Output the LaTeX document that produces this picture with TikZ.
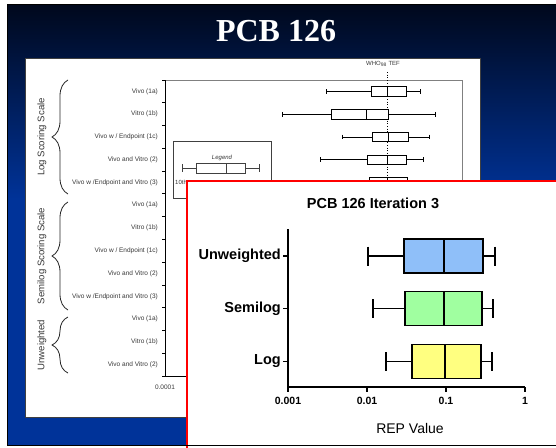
\documentclass[tikz,border=0pt]{standalone}
\usepackage{fontspec}
\setmainfont{Liberation Serif}
\setsansfont{Liberation Sans}
\usetikzlibrary{decorations.pathreplacing}

\definecolor{slidedark}{RGB}{0,8,28}
\definecolor{slideblue}{RGB}{0,51,153}
\definecolor{framegrey}{RGB}{128,128,128}
\definecolor{labelgrey}{RGB}{55,55,55}
\definecolor{boxblue}{RGB}{143,191,249}
\definecolor{boxgreen}{RGB}{160,255,160}
\definecolor{boxyellow}{RGB}{255,255,128}

\tikzset{
  catlabel/.style={font=\sffamily\fontsize{6.5}{7}\selectfont, text=labelgrey, anchor=east, inner sep=0pt},
  grouplabel/.style={font=\sffamily\fontsize{9.6}{11}\selectfont, text=labelgrey, rotate=90, inner sep=0pt},
  groupbrace/.style={decorate, decoration={brace, amplitude=16pt}, line width=0.8pt, draw=black!85},
  smallline/.style={line width=0.8pt, draw=black},
  bigline/.style={line width=1.5pt, draw=black},
  biglabel/.style={font=\sffamily\bfseries\fontsize{14.5}{16}\selectfont, anchor=east, inner sep=0pt},
  ticklabel/.style={font=\sffamily\bfseries\fontsize{10.5}{12}\selectfont, inner sep=0pt},
}

% small box-and-whisker row: y, low, q1, median, q3, high
\newcommand\smallrow[6]{%
  \draw[smallline] (#2,#1) -- (#3,#1) (#5,#1) -- (#6,#1)
    (#2,#1-2.3) -- (#2,#1+2.3) (#6,#1-2.3) -- (#6,#1+2.3);
  \draw[smallline, fill=white] (#3,#1-4.7) rectangle (#5,#1+4.7);
  \draw[smallline] (#4,#1-4.7) -- (#4,#1+4.7);
}
% large box-and-whisker row: y, low, q1, median, q3, high, fill colour
\newcommand\bigrow[7]{%
  \draw[bigline] (#2,#1) -- (#3,#1) (#5,#1) -- (#6,#1)
    (#2,#1-9.5) -- (#2,#1+9.5) (#6,#1-9.5) -- (#6,#1+9.5);
  \draw[bigline, fill=#7] (#3,#1-17) rectangle (#5,#1+17);
  \draw[bigline] (#4,#1-17) -- (#4,#1+17);
}

\begin{document}
\begin{tikzpicture}[x=1pt, y=-1pt]
\useasboundingbox (0,0) rectangle (556,447);
\clip (0,0) rectangle (556,447);
\fill[white] (0,0) rectangle (556,447);

% slide background
\shade[top color=slidedark, bottom color=slideblue] (7.5,4.5) rectangle (560,200);
\fill[slideblue] (7.5,199.5) rectangle (560,446);

\node[font=\bfseries\fontsize{32}{36}\selectfont, text=white] (title) at (276,31) {PCB 126};

% white chart panel
\draw[draw=black!75, line width=0.8pt, fill=white] (25,58) rectangle (480,417);

% upper chart frame and axes
\draw[framegrey, line width=0.8pt] (165,80) -- (462,80) -- (462,376);
\draw[smallline] (165,80) -- (165,376) -- (462,376);
\foreach \k in {0,...,13} \draw[smallline] (162,{80+22.77*\k}) -- (165,{80+22.77*\k});
\node[font=\sffamily\fontsize{6.5}{7}\selectfont, text=labelgrey] (xmin) at (165,387) {0.0001};

% reference TEF line
\node[font=\sffamily\fontsize{6}{7}\selectfont, text=labelgrey] (tef) at (383,64) {WHO\textsubscript{98} TEF};
\draw[dotted, line width=0.7pt] (387,72) -- (387,376);

% row labels
\foreach \i/\t in {1/{Vivo (1a)}, 2/{Vitro (1b)}, 3/{Vivo w / Endpoint (1c)}, 4/{Vivo and Vitro (2)},
  5/{Vivo w /Endpoint and Vitro (3)}, 6/{Vivo (1a)}, 7/{Vitro (1b)}, 8/{Vivo w / Endpoint (1c)},
  9/{Vivo and Vitro (2)}, 10/{Vivo w /Endpoint and Vitro (3)}, 11/{Vivo (1a)}, 12/{Vitro (1b)},
  13/{Vivo and Vitro (2)}}
  \node[catlabel] (row\i) at (158,{80+22.77*(\i-0.5)}) {\t};

% group braces and labels
\draw[groupbrace] (68,194) -- (68,80);
\draw[groupbrace] (68,310) -- (68,202);
\draw[groupbrace] (68,373) -- (68,317);
\node[grouplabel] (glog) at (42,137) {Log Scoring Scale};
\node[grouplabel] (gsemi) at (42,256) {Semilog Scoring Scale};
\node[grouplabel] (gunw) at (42,345) {Unweighted};

% upper box plots
\smallrow{91.4}{326}{371}{387}{406}{420}
\smallrow{114.2}{282}{331}{366}{388}{435}
\smallrow{137.0}{342}{372}{388}{408}{429}
\smallrow{159.7}{320}{367}{387}{406}{423}
\smallrow{182.5}{335}{369}{387}{407}{426}

% legend
\draw[draw=black!75, line width=0.8pt, fill=white] (173,141) rectangle (271,198);
\node[font=\sffamily\itshape\fontsize{6}{7}\selectfont, text=labelgrey] (legend) at (222,158) {Legend};
\draw[smallline, draw=black!75] (182,168) -- (196,168) (245,168) -- (259,168)
  (182,164) -- (182,172) (259,164) -- (259,172);
\draw[smallline, draw=black!75] (196,163) rectangle (245,173) (226,163) -- (226,173);
\node[font=\sffamily\fontsize{6}{7}\selectfont, text=labelgrey, anchor=west, inner sep=0pt] (pct) at (175,182) {10th};

% inset chart
\draw[red, line width=2pt, fill=white] (187,181) rectangle (562,452);
\node[font=\sffamily\bfseries\fontsize{14.5}{16}\selectfont] (ititle) at (373,203) {PCB 126 Iteration 3};

\draw[line width=2pt] (288,229) -- (288,387) -- (525,387);
\foreach \x/\t in {288/0.001, 367/0.01, 446/0.1, 525/1} {
  \draw[line width=1.5pt] (\x,387) -- (\x,392);
  \node[ticklabel] at (\x,401) {\t};
}
\node[font=\sffamily\fontsize{14}{16}\selectfont] (xlab) at (410,428) {REP Value};

\foreach \y/\t in {256/Unweighted, 308.5/Semilog, 361.5/Log} {
  \draw[line width=1.5pt] (283,\y) -- (288,\y);
  \node[biglabel] at (281,\y) {\t};
}

\bigrow{256}{368}{404}{444}{483}{495}{boxblue}
\bigrow{308.5}{373}{405}{444}{482}{493}{boxgreen}
\bigrow{361.5}{386}{412}{445}{481}{492}{boxyellow}

% slide border
\draw[black, line width=1.5pt] (7.5,4.5) rectangle (570,445.5);
\end{tikzpicture}
\end{document}
